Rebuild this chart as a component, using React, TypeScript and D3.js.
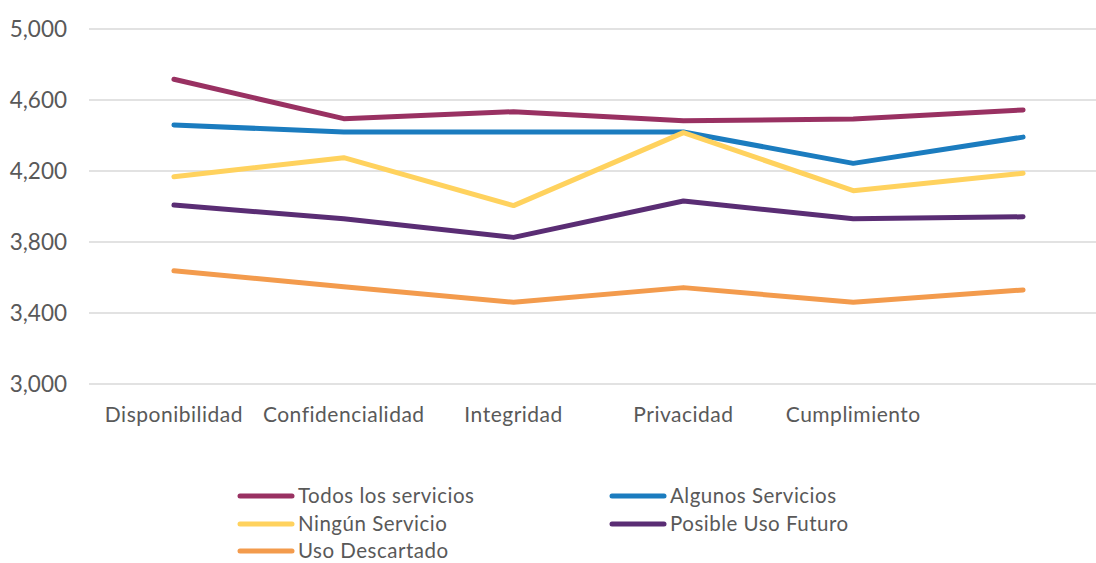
import React from "react";
import * as d3 from "d3";

const categories = ["Disponibilidad", "Confidencialidad", "Integridad", "Privacidad", "Cumplimiento", ""];
const seriesNames = ["Todos los servicios", "Algunos Servicios", "Ningún Servicio", "Posible Uso Futuro", "Uso Descartado"];
const todos = [4.717, 4.495, 4.534, 4.483, 4.493, 4.544];
const algunos = [4.459, 4.42, 4.42, 4.42, 4.243, 4.391];
const ningun = [4.168, 4.275, 4.005, 4.416, 4.089, 4.187];
const posible = [4.008, 3.931, 3.826, 4.031, 3.931, 3.942];
const uso = [3.638, 3.548, 3.46, 3.543, 3.46, 3.53];
const colors = ["#993162", "#1B7CBF", "#FFD25E", "#5A2D74", "#F39B4D"];
const yTicks = [3.0, 3.4, 3.8, 4.2, 4.6, 5.0];

const W = 1096;
const H = 563;
const FONT = "Lato, 'Open Sans', sans-serif";

export default function App() {
  const series = [todos, algunos, ningun, posible, uso];
  const x = d3.scaleBand<string>().domain(categories.map((c, i) => String(i))).range([89, 1108]);
  const y = d3.scaleLinear().domain([3, 5]).range([384, 29]);
  const line = d3
    .line<number>()
    .x((_, i) => (x(String(i)) as number) + x.bandwidth() / 2)
    .y((d) => y(d));
  const fmt = (v: number) => d3.format(".3f")(v).replace(".", ",");

  const legendPos = [
    { x: 238, y: 496 },
    { x: 610, y: 496 },
    { x: 238, y: 524 },
    { x: 610, y: 524 },
    { x: 238, y: 551 },
  ];

  return (
    <svg width={W} height={H} style={{ position: "absolute", left: 0, top: 0, background: "#fff" }}>
      {yTicks.map((t) => (
        <g key={t}>
          <line x1={89} x2={1108} y1={y(t)} y2={y(t)} stroke="#D9D9D9" strokeWidth={1.5} />
          <text x={67} y={y(t)} dy="0.36em" textAnchor="end" fontFamily={FONT} fontSize={22.5} fill="#595959">
            {fmt(t)}
          </text>
        </g>
      ))}
      {categories.map((c, i) => (
        <text
          key={i}
          x={(x(String(i)) as number) + x.bandwidth() / 2}
          y={422}
          textAnchor="middle"
          fontFamily={FONT}
          fontSize={21}
          letterSpacing={0.5}
          fill="#595959"
        >
          {c}
        </text>
      ))}
      {series.map((s, i) => (
        <path
          key={i}
          d={line(s) as string}
          fill="none"
          stroke={colors[i]}
          strokeWidth={5}
          strokeLinecap="round"
          strokeLinejoin="round"
        />
      ))}
      {seriesNames.map((n, i) => (
        <g key={n} transform={`translate(${legendPos[i].x},${legendPos[i].y})`}>
          <line x1={2} x2={54} y1={0} y2={0} stroke={colors[i]} strokeWidth={5} strokeLinecap="round" />
          <text x={60} y={0} dy="0.36em" fontFamily={FONT} fontSize={20.5} letterSpacing={0.5} fill="#595959">
            {n}
          </text>
        </g>
      ))}
    </svg>
  );
}
